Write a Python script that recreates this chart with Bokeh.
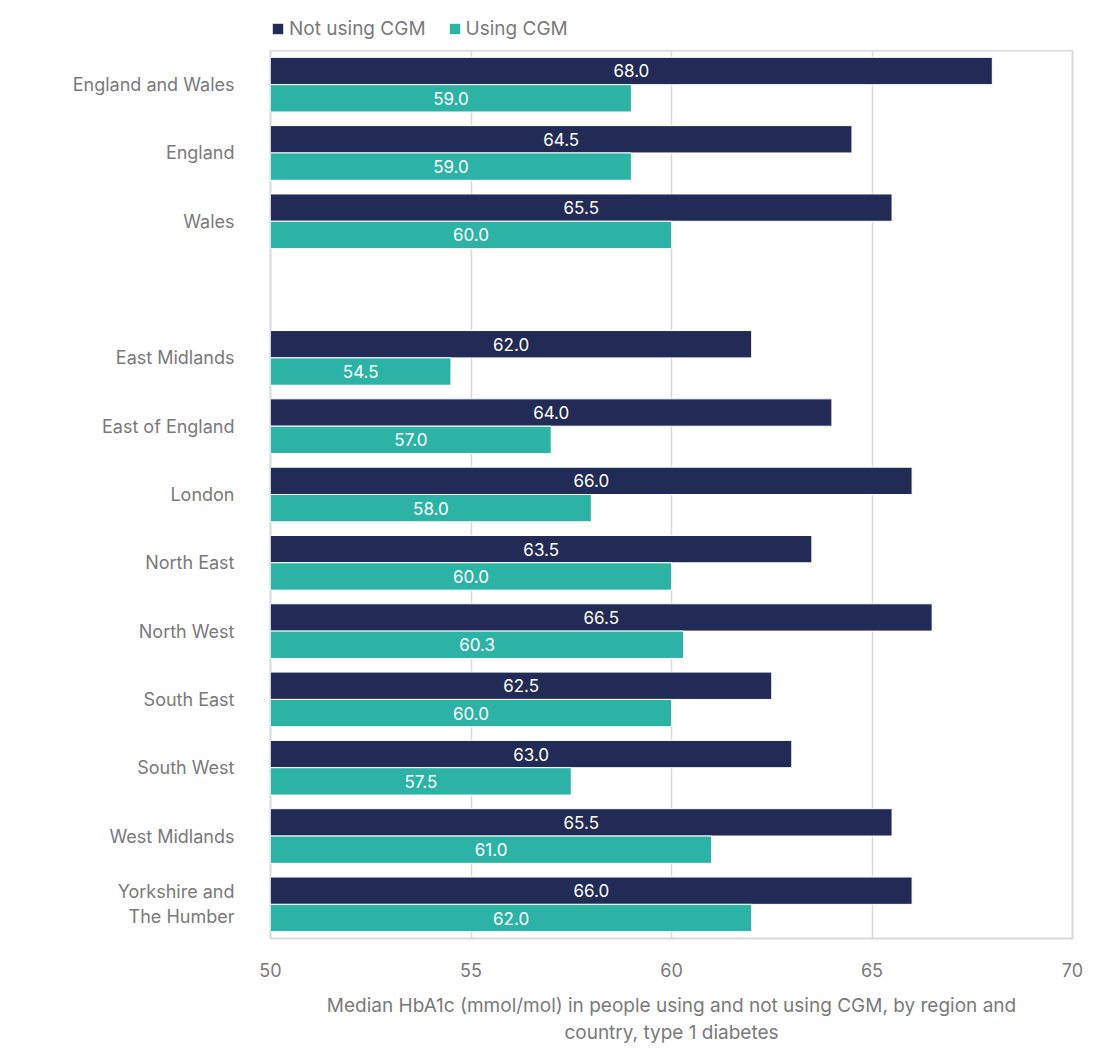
from bokeh.plotting import figure
from bokeh.models import ColumnDataSource, FactorRange, Range1d, Legend, LegendItem
from bokeh.layouts import column
from bokeh.transform import dodge
from bokeh.core.properties import value
from bokeh.embed import file_html
from bokeh.resources import INLINE

categories = ["England and Wales", "England", "Wales", " ",
              "East Midlands", "East of England", "London", "North East",
              "North West", "South East", "South West", "West Midlands",
              "Yorkshire and\nThe Humber"]
not_using = [68.0, 64.5, 65.5, None, 62.0, 64.0, 66.0, 63.5, 66.5, 62.5, 63.0, 65.5, 66.0]
using = [59.0, 59.0, 60.0, None, 54.5, 57.0, 58.0, 60.0, 60.3, 60.0, 57.5, 61.0, 62.0]
series_names = ["Not using CGM", "Using CGM"]
x_ticks = [50, 55, 60, 65, 70]
x_title = "Median HbA1c (mmol/mol) in people using and not using CGM, by region and\ncountry, type 1 diabetes"

NAVY = "#222a56"
TEAL = "#2db3a6"
GRAY = "#7a7a7a"
FONT = "Inter"

base = 50
rows = [i for i, v in enumerate(not_using) if v is not None]
cats = [categories[i] for i in rows]
nu = [not_using[i] for i in rows]
us = [using[i] for i in rows]
src = ColumnDataSource(dict(
    cat=cats, nu=nu, us=us,
    nu_mid=[(base + v) / 2 for v in nu],
    us_mid=[(base + v) / 2 for v in us],
    nu_lab=[f"{v:.1f}" for v in nu],
    us_lab=[f"{v:.1f}" for v in us],
    left=[base] * len(cats),
))

p = figure(width=1093, height=1007, output_backend="svg", toolbar_location=None,
           y_range=FactorRange(factors=list(reversed(categories)), range_padding=0),
           x_range=Range1d(x_ticks[0], x_ticks[-1]),
           min_border_left=270, min_border_right=21, min_border_top=0, min_border_bottom=119)

r1 = p.hbar(y=dodge("cat", 0.2, range=p.y_range), left="left", right="nu", height=0.4,
            source=src, fill_color=NAVY, line_color="white", line_width=1)
r2 = p.hbar(y=dodge("cat", -0.2, range=p.y_range), left="left", right="us", height=0.4,
            source=src, fill_color=TEAL, line_color="white", line_width=1)

p.text(x="nu_mid", y=dodge("cat", 0.2, range=p.y_range), text="nu_lab", source=src,
       text_color="white", text_font=value(FONT), text_font_size="17px",
       text_align="center", text_baseline="middle")
p.text(x="us_mid", y=dodge("cat", -0.2, range=p.y_range), text="us_lab", source=src,
       text_color="white", text_font=value(FONT), text_font_size="17px",
       text_align="center", text_baseline="middle")

p.xaxis.ticker = x_ticks
p.xaxis.axis_line_color = None
p.xaxis.major_tick_line_color = None
p.xaxis.minor_tick_line_color = None
p.xaxis.major_label_text_color = GRAY
p.xaxis.major_label_text_font = FONT
p.xaxis.major_label_text_font_size = "18px"
p.xaxis.major_label_standoff = 18
p.xaxis.axis_label = x_title
p.xaxis.axis_label_text_color = GRAY
p.xaxis.axis_label_text_font = FONT
p.xaxis.axis_label_text_font_size = "19px"
p.xaxis.axis_label_text_font_style = "normal"
p.xaxis.axis_label_standoff = 14

p.yaxis.axis_line_color = None
p.yaxis.major_tick_line_color = None
p.yaxis.minor_tick_line_color = None
p.yaxis.major_label_text_color = GRAY
p.yaxis.major_label_text_font = FONT
p.yaxis.major_label_text_font_size = "18px"
p.yaxis.major_label_standoff = 30

p.ygrid.grid_line_color = None
p.xgrid.grid_line_color = "#d9d9d9"
p.xgrid.grid_line_width = 1.5
p.outline_line_color = "#d9d9d9"
p.outline_line_width = 2
p.background_fill_color = "white"
p.border_fill_color = "white"

# Legend strip above the chart
lg = figure(width=1093, height=50, output_backend="svg", toolbar_location=None,
            x_range=Range1d(0, 1), y_range=Range1d(0, 1),
            min_border=0)
lg.axis.visible = False
lg.grid.grid_line_color = None
lg.outline_line_color = None
nan = float("nan")
dummy = ColumnDataSource(dict(y=[nan], left=[nan], right=[nan]))
l1 = lg.hbar(y="y", left="left", right="right", height=0.4, source=dummy,
             fill_color=NAVY, line_color=None)
l2 = lg.hbar(y="y", left="left", right="right", height=0.4, source=dummy,
             fill_color=TEAL, line_color=None)
legend = Legend(items=[LegendItem(label=series_names[0], renderers=[l1]),
                       LegendItem(label=series_names[1], renderers=[l2])],
                orientation="horizontal", location=(1, 10),
                label_text_color=GRAY, label_text_font=FONT, label_text_font_size="19px",
                glyph_width=13, glyph_height=13, spacing=22, label_standoff=5,
                border_line_color=None, background_fill_alpha=0, padding=0, margin=0)
lg.add_layout(legend, "center")

open("out.html", "w").write(file_html(column(lg, p, spacing=0), INLINE))
